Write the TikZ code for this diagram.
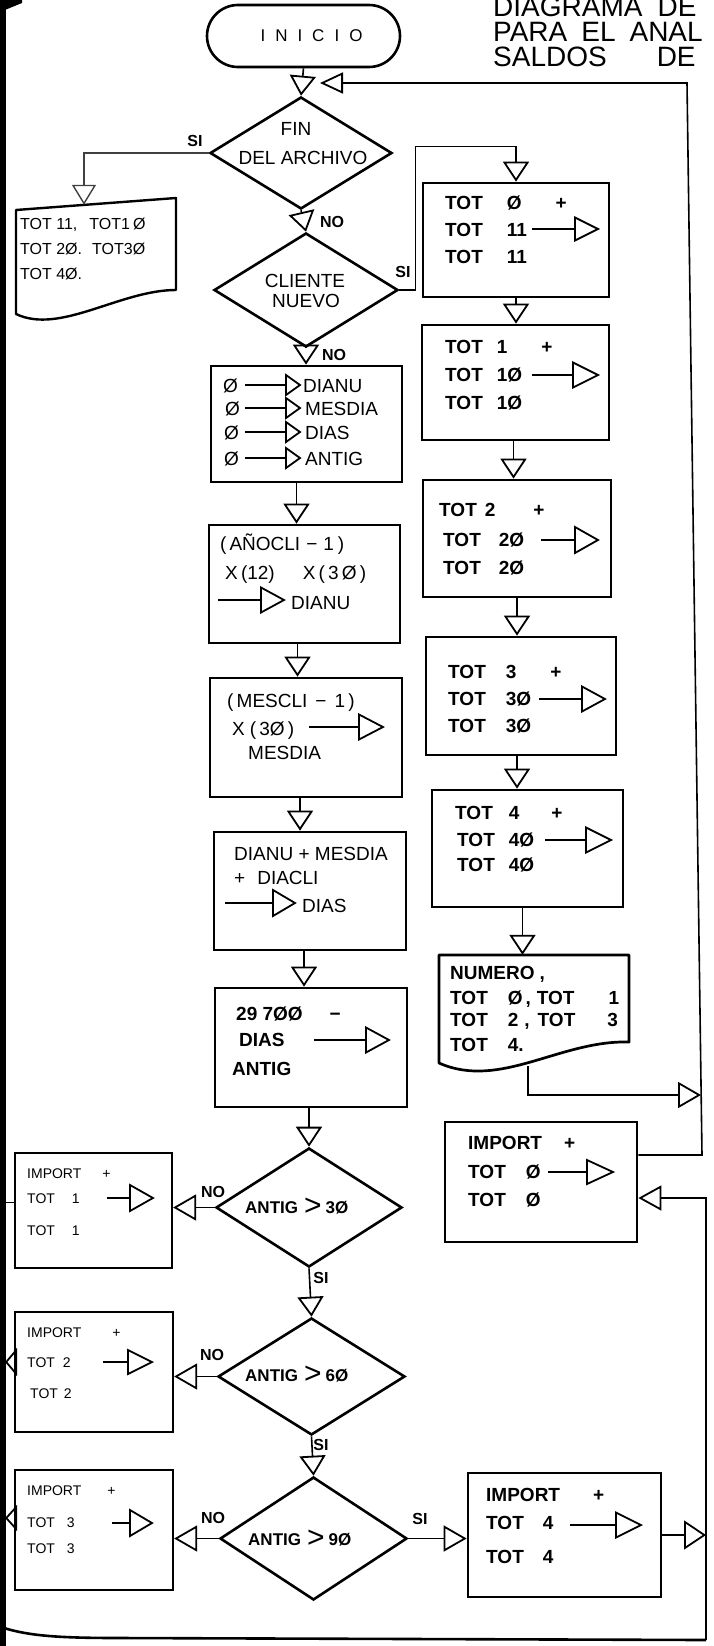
\documentclass[tikz,border=0pt]{standalone}
\usepackage{fontspec}
\setmainfont{Liberation Sans}
\usetikzlibrary{arrows.meta,shapes.geometric}
\newcommand\inarr[5]{\draw[conn] (#1,#4) -- (#2,#4); \draw[tri] (#2,#4-#5) -- (#3,#4) -- (#2,#4+#5) -- cycle;}
\begin{document}
\begin{tikzpicture}[x=1pt,y=-1pt,
  box/.style={draw, rectangle, line width=2.7pt, inner sep=0pt},
  lbox/.style={draw, rectangle, line width=2.3pt, inner sep=0pt},
  dia/.style={draw, diamond, line width=2.6pt, inner sep=0pt},
  conn/.style={line width=1.6pt},
  tri/.style={line width=1.8pt, line join=miter},
  flow/.style={conn, -{Triangle[open,length=20pt,width=26pt,line width=1.8pt]}},
  hflow/.style={conn, -{Triangle[open,length=23pt,width=26pt,line width=1.8pt]}},
  tb/.style={anchor=base west, inner sep=0pt, font=\bfseries\fontsize{19}{19}\selectfont},
  tr/.style={anchor=base west, inner sep=0pt, font=\fontsize{19}{19}\selectfont},
  ts/.style={anchor=base west, inner sep=0pt, font=\fontsize{14}{14}\selectfont},
  tl/.style={anchor=base west, inner sep=0pt, font=\fontsize{16}{16}\selectfont},
  tc/.style={anchor=base, inner sep=0pt, font=\fontsize{19}{19}\selectfont},
  tad/.style={anchor=base west, inner sep=0pt, font=\bfseries\fontsize{17}{17}\selectfont},
  lbl/.style={inner sep=0pt, font=\bfseries\fontsize{16}{16}\selectfont},
]
\fill[white] (0,0) rectangle (713,1646);
\useasboundingbox (0,0) rectangle (713,1646);

% scan edge
\fill (0,0) -- (22,0) -- (22,3) -- (0,12) -- cycle;
\draw[line width=6pt] (3,0) -- (3,1646);

% title
\node[anchor=north west, inner sep=0pt, align=left, font=\fontsize{28}{25}\selectfont] (title) at (493,-3) {DIAGRAMA\hspace{15pt}DE\\PARA\hspace{14pt}EL\hspace{14pt}ANAL\\SALDOS\hspace{50pt}DE};

% main shapes
\node[draw, line width=2.6pt, rounded corners=31pt, minimum width=193pt, minimum height=62pt, inner sep=0pt, font=\fontsize{17}{17}\selectfont] (inicio) at (303.5,36) {\hspace{16pt}I\hspace{10pt}N\hspace{10pt}I\hspace{10pt}C\hspace{10pt}I\hspace{10pt}O};

\node[dia, minimum width=182pt, minimum height=112pt] (fin) at (301,153) {};
\node[dia, minimum width=184pt, minimum height=114pt] (cli) at (306,290) {};
\node[dia, minimum width=186pt, minimum height=119pt] (a30) at (309,1207.5) {};
\node[dia, minimum width=187pt, minimum height=117pt] (a60) at (311.5,1376.5) {};
\node[dia, minimum width=187pt, minimum height=123pt] (a90) at (313.5,1538.5) {};

\node[box, minimum width=186pt, minimum height=114pt] (tot0) at (516,240) {};
\node[box, minimum width=187pt, minimum height=115pt] (tot1) at (515.5,382.5) {};
\node[box, minimum width=188pt, minimum height=117pt] (tot2) at (517,538.5) {};
\node[box, minimum width=190pt, minimum height=118pt] (tot3) at (521,696) {};
\node[box, minimum width=191pt, minimum height=117pt] (tot4) at (527.5,848.5) {};
\node[box, minimum width=192pt, minimum height=120pt] (imp0) at (541,1182) {};
\node[box, minimum width=191pt, minimum height=116pt] (dianu) at (306.5,424) {};
\node[box, minimum width=191pt, minimum height=118pt] (anocli) at (304.5,584) {};
\node[box, minimum width=192pt, minimum height=119pt] (mescli) at (306,737.5) {};
\node[box, minimum width=192pt, minimum height=118pt] (dianumes) at (310,891) {};
\node[box, minimum width=192pt, minimum height=119pt] (b29) at (311,1047.5) {};
\node[lbox, minimum width=157pt, minimum height=115pt] (l1) at (93.5,1210.5) {};
\node[lbox, minimum width=158pt, minimum height=120pt] (l2) at (94,1372) {};
\node[lbox, minimum width=158pt, minimum height=120pt] (l3) at (94,1530) {};
\node[box, minimum width=193pt, minimum height=124pt] (imp4) at (564.5,1535) {};

% documents
\node[inner sep=0pt, minimum width=160pt, minimum height=110pt] (ldoc) at (96,260) {};
\draw[line width=2.4pt, line join=round] (16,210) -- (176,198) -- (176,290) .. controls (120,290) and (60,335) .. (16,314) -- cycle;
\node[inner sep=0pt, minimum width=190pt, minimum height=110pt] (numero) at (534,1010) {};
\draw[line width=2.7pt, line join=round] (439,955) -- (629,955) -- (629,1042) .. controls (560,1040) and (500,1090) .. (439,1063) -- cycle;

% connectors
\draw[flow] (inicio.south) -- (fin.north);
\draw[flow] (fin.south) -- (cli.north);
\coordinate (ldtop) at ([xshift=-12pt]ldoc.north);
\draw[black!75, line width=1.2pt, -{Triangle[open,length=20pt,width=24pt,line width=1.4pt]}] (fin.west) -| (ldtop);
\draw[flow] (cli.east) -- ++(16,0) |- ([yshift=35pt]tot0.north) -- (tot0.north);
\draw[flow] (cli.south) -- (cli.south |- dianu.north);
\coordinate (c1) at ([xshift=-10pt]dianu.south);
\draw[flow] (c1) -- (c1 |- anocli.north);
\coordinate (c2) at ([xshift=-7pt]anocli.south);
\draw[flow] (c2) -- (c2 |- mescli.north);
\coordinate (c3) at ([xshift=-6pt]mescli.south);
\draw[flow] (c3) -- (c3 |- dianumes.north);
\coordinate (c4) at ([xshift=-6pt]dianumes.south);
\draw[flow] (c4) -- (c4 |- b29.north);
\draw[flow] (b29.south -| a30.north) -- (a30.north);
\draw[flow] (a30.south) -- (a60.north);
\draw[flow] (a60.south) -- (a90.north);
\draw[hflow] (a30.west) -- (a30.west -| l1.east);
\draw[hflow] (a60.west) -- (a60.west -| l2.east);
\draw[hflow] (a90.west) -- (a90.west -| l3.east);
\draw[hflow] (a90.east) -- (a90.east -| imp4.west);

\draw[flow] (tot0.south) -- (tot0.south |- tot1.north);
\coordinate (d1) at ([xshift=-2pt]tot1.south);
\draw[flow] (d1) -- (d1 |- tot2.north);
\draw[flow] (tot2.south) -- (tot2.south |- tot3.north);
\coordinate (d3) at ([xshift=-4pt]tot3.south);
\draw[flow] (d3) -- (d3 |- tot4.north);
\coordinate (d4) at ([xshift=-5pt]tot4.south);
\draw[flow] (d4) -- (d4 |- numero.north);

\coordinate (numout) at (528,1066);
\coordinate (rnum) at (701,1095);
\draw[conn, -{Triangle[open,length=23pt,width=26pt,line width=1.8pt]}] (numout) |- (rnum);

\coordinate (rb) at (702,1155);
\coordinate (rt) at (687,83);
\coordinate (ret) at (320,83);
\coordinate (io) at ([yshift=27pt]imp0.east);
\draw[conn, -{Triangle[open,length=23pt,width=21pt,line width=1.8pt]}] (io) -- (io -| rb) -- (rt) -- (ret);

\coordinate (blc) at (4,1628);
\coordinate (brc) at (706,1640);
\coordinate (ii) at ([yshift=-16pt]imp0.east);
\draw[line width=2.6pt] (blc) .. controls (30,1636) and (60,1638) .. (120,1638) -- (brc);
\draw[conn, -{Triangle[open,length=23pt,width=25pt,line width=1.8pt]}] (brc) -- (brc |- ii) -- (ii);
\draw[conn, -{Triangle[open,length=22pt,width=29pt,line width=1.8pt]}] (imp4.east) -- (imp4.east -| brc);

\coordinate (ledge) at (5,0);
\coordinate (l1o) at ([yshift=8pt]l1.west);
\draw[conn] (l1o) -- (l1o -| ledge);
\coordinate (l2o) at ([yshift=10pt]l2.west);
\draw[conn, -{Triangle[open,length=12pt,width=28pt,line width=1.8pt]}] (l2o) -- (l2o -| ledge);
\coordinate (l3o) at ([yshift=12pt]l3.west);
\draw[conn, -{Triangle[open,length=12pt,width=26pt,line width=1.8pt]}] (l3o) -- (l3o -| ledge);

% labels
\node[lbl] (siA) at (195,141) {SI};
\node[lbl] (noA) at (332,222) {NO};
\node[lbl] (siB) at (403,272) {SI};
\node[lbl] (noB) at (334,355) {NO};
\node[lbl] (noC) at (213,1192) {NO};
\node[lbl] (siC) at (321,1278) {SI};
\node[lbl] (noD) at (212,1355) {NO};
\node[lbl] (siD) at (321,1445) {SI};
\node[lbl] (noE) at (213,1518) {NO};
\node[lbl] (siE) at (420,1519) {SI};

% diamond texts
\node[tc] (tfin1) at (296,135) {FIN};
\node[tc] (tfin2) at (303,164) {DEL ARCHIVO};
\node[tc] (tcli1) at (305,287) {CLIENTE};
\node[tc] (tcli2) at (306,307) {NUEVO};
\node[tad] (ta30) at (245,1213) {ANTIG\hspace{6pt}\raisebox{-2pt}{\fontsize{30}{30}\selectfont\mdseries >}\hspace{4pt}3Ø};
\node[tad] (ta60) at (245,1381) {ANTIG\hspace{6pt}\raisebox{-2pt}{\fontsize{30}{30}\selectfont\mdseries >}\hspace{4pt}6Ø};
\node[tad] (ta90) at (248,1545) {ANTIG\hspace{6pt}\raisebox{-2pt}{\fontsize{30}{30}\selectfont\mdseries >}\hspace{4pt}9Ø};

% left document
\node[tl] (ld1) at (20,229) {TOT 11,\hspace{12pt}TOT1\hspace{3pt}Ø};
\node[tl] (ld2) at (20,254) {TOT 2Ø.\hspace{10pt}TOT3Ø};
\node[tl] (ld3) at (20,279) {TOT 4Ø.};

% tot0
\node[tb] (xa0) at (445,209.5) {TOT\hspace{24pt}Ø\hspace{34pt}+};
\node[tb] (xa1) at (445,236.5) {TOT\hspace{24pt}11};
\inarr{532}{575}{598}{229}{11.5}
\node[tb] (xa2) at (445,263.5) {TOT\hspace{24pt}11};
% tot1
\node[tb] (xb0) at (445,353.5) {TOT\hspace{14pt}1\hspace{34pt}+};
\node[tb] (xb1) at (445,381.5) {TOT\hspace{14pt}1Ø};
\inarr{532}{573}{598}{375}{12.5}
\node[tb] (xb2) at (445,409.5) {TOT\hspace{14pt}1Ø};
% tot2
\node[tb] (xc0) at (439,516.5) {TOT\hspace{8pt}2\hspace{38pt}+};
\node[tb] (xc1) at (443,546.5) {TOT\hspace{18pt}2Ø};
\inarr{541}{575}{598}{540}{13}
\node[tb] (xc2) at (443,574.5) {TOT\hspace{18pt}2Ø};
% tot3
\node[tb] (xd0) at (448,678.5) {TOT\hspace{20pt}3\hspace{34pt}+};
\node[tb] (xd1) at (448,705.5) {TOT\hspace{20pt}3Ø};
\inarr{539}{582}{605}{699}{12.5}
\node[tb] (xd2) at (448,732.5) {TOT\hspace{20pt}3Ø};
% tot4
\node[tb] (xe0) at (455,819.5) {TOT\hspace{16pt}4\hspace{32pt}+};
\node[tb] (xe1) at (457,846.5) {TOT\hspace{14pt}4Ø};
\inarr{545}{586}{611}{840}{12.5}
\node[tb] (xe2) at (457,871.5) {TOT\hspace{14pt}4Ø};
% numero
\node[tb] (xn0) at (450,979.5) {NUMERO\hspace{5pt},};
\node[tb] (xn1) at (450,1004.5) {TOT\hspace{20pt}Ø\hspace{3pt},\hspace{6pt}TOT\hspace{34pt}1};
\node[tb] (xn2) at (450,1026.5) {TOT\hspace{20pt}2\hspace{6pt},\hspace{8pt}TOT\hspace{32pt}3};
\node[tb] (xn3) at (450,1051.5) {TOT\hspace{20pt}4.};
% imp0
\node[tb] (xi0) at (468,1149.5) {IMPORT\hspace{22pt}+};
\node[tb] (xi1) at (468,1178.5) {TOT\hspace{20pt}Ø};
\inarr{548}{587}{613}{1172}{12}
\node[tb] (xi2) at (468,1206.5) {TOT\hspace{20pt}Ø};

% dianu
\node[tr] (xf0) at (223,392) {Ø};
\inarr{245}{286}{300}{385}{10}
\node[tr] (xf0b) at (303,392) {DIANU};
\node[tr] (xf1) at (225,415) {Ø};
\inarr{245}{286}{300}{408}{10}
\node[tr] (xf1b) at (305,415) {MESDIA};
\node[tr] (xf2) at (224,439) {Ø};
\inarr{245}{286}{300}{432}{10}
\node[tr] (xf2b) at (305,439) {DIAS};
\node[tr] (xf3) at (224,465) {Ø};
\inarr{245}{286}{300}{458}{10}
\node[tr] (xf3b) at (305,465) {ANTIG};

% anocli
\node[tr] (xg0) at (220,550) {(\hspace{3pt}AÑOCLI\hspace{6pt}−\hspace{6pt}1\hspace{4pt})};
\node[tr] (xg1) at (225,579) {X\,(12)\hspace{28pt}X\,(\,3\,Ø\,)};
\inarr{218}{261}{284}{600}{12.5}
\node[tr] (xg2) at (291,609) {DIANU};

% mescli
\node[tr] (xh0) at (227,707) {(\,MESCLI\hspace{8pt}−\hspace{8pt}1\,)};
\node[tr] (xh1) at (232,735) {X\hspace{5pt}(\,3Ø\,)};
\inarr{309}{359}{383}{727}{12.5}
\node[tr] (xh2) at (248,759) {MESDIA};

% dianumes
\node[tr] (xj0) at (234,860) {DIANU + MESDIA};
\node[tr] (xj1) at (234,884) {+\hspace{12pt}DIACLI};
\inarr{225}{273}{295}{903}{13}
\node[tr] (xj2) at (302,912) {DIAS};

% b29
\node[tb] (xk0) at (236,1020) {29 7ØØ\hspace{27pt}−};
\node[tb] (xk1) at (239,1046) {DIAS};
\inarr{314}{366}{389}{1040}{12.5}
\node[tb] (xk2) at (232,1075) {ANTIG};

% left boxes
\node[ts] (xl10) at (27,1178) {IMPORT\hspace{21pt}+};
\node[ts] (xl11) at (27,1203) {TOT\hspace{17pt}1};
\inarr{107}{130}{153}{1198}{13}
\node[ts] (xl12) at (27,1235) {TOT\hspace{17pt}1};
\node[ts] (xl20) at (27,1337) {IMPORT\hspace{31pt}+};
\node[ts] (xl21) at (27,1367) {TOT\hspace{8pt}2};
\inarr{103}{128}{152}{1362}{12}
\node[ts] (xl22) at (30,1398) {TOT\hspace{6pt}2};
\node[ts] (xl30) at (27,1495) {IMPORT\hspace{26pt}+};
\node[ts] (xl31) at (27,1527) {TOT\hspace{12pt}3};
\inarr{112}{130}{152}{1523}{13}
\node[ts] (xl32) at (27,1553) {TOT\hspace{12pt}3};

% imp4
\node[tb] (xm0) at (486,1501.5) {IMPORT\hspace{33pt}+};
\node[tb] (xm1) at (486,1529.5) {TOT\hspace{19pt}4};
\inarr{570}{616}{641}{1525}{12.5}
\node[tb] (xm2) at (486,1563.5) {TOT\hspace{19pt}4};
\end{tikzpicture}
\end{document}
